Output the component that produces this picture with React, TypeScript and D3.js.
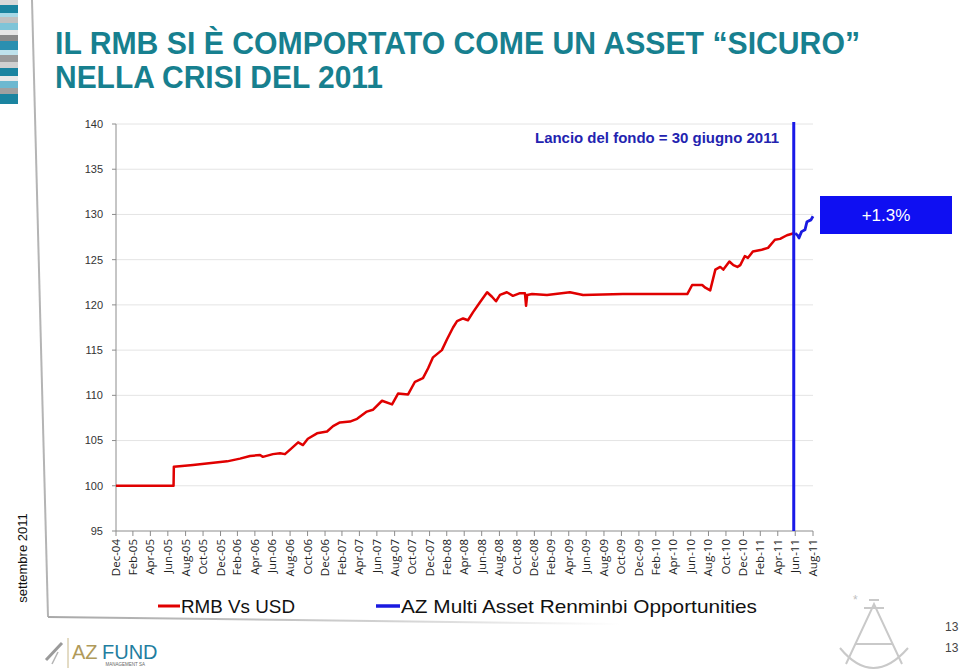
import React from 'react';
import * as d3 from 'd3';

// RMB vs USD (rebased 100)
const rmbDates = [
  '2004-12-31', '2005-04-29', '2005-07-20', '2005-07-21', '2005-09-26', '2006-01-23',
  '2006-03-09', '2006-04-13', '2006-05-18', '2006-05-28', '2006-07-02', '2006-07-27',
  '2006-08-13', '2006-08-31', '2006-09-28', '2006-10-15', '2006-11-01', '2006-12-03',
  '2007-01-07', '2007-01-28', '2007-02-21', '2007-03-28', '2007-04-22', '2007-05-26',
  '2007-06-16', '2007-07-18', '2007-08-22', '2007-09-12', '2007-10-17', '2007-11-10',
  '2007-12-08', '2007-12-26', '2008-01-12', '2008-02-12', '2008-03-01', '2008-03-22',
  '2008-04-05', '2008-04-26', '2008-05-13', '2008-05-31', '2008-06-24', '2008-07-19',
  '2008-08-05', '2008-08-19', '2008-09-02', '2008-09-26', '2008-10-17', '2008-11-11',
  '2008-11-28', '2008-12-02', '2008-12-06', '2008-12-23', '2009-02-13', '2009-05-04',
  '2009-06-19', '2009-11-05', '2010-06-18', '2010-07-05', '2010-08-09', '2010-08-20',
  '2010-09-06', '2010-09-24', '2010-10-11', '2010-10-22', '2010-11-12', '2010-11-26',
  '2010-12-10', '2010-12-20', '2011-01-05', '2011-01-16', '2011-02-02', '2011-03-05',
  '2011-03-27', '2011-04-20', '2011-05-08', '2011-06-01', '2011-06-22', '2011-06-30',
];
const rmbValues = [
  100.0, 100.0, 100.0, 102.1, 102.3, 102.7,
  103.0, 103.3, 103.4, 103.2, 103.5, 103.6,
  103.5, 104.0, 104.8, 104.5, 105.2, 105.8,
  106.0, 106.6, 107.0, 107.1, 107.4, 108.2,
  108.4, 109.4, 109.0, 110.2, 110.1, 111.5,
  111.9, 113.0, 114.2, 115.0, 116.2, 117.5,
  118.2, 118.5, 118.3, 119.2, 120.3, 121.4,
  120.9, 120.4, 121.1, 121.4, 121.0, 121.3,
  121.3, 119.9, 121.1, 121.2, 121.1, 121.4,
  121.1, 121.2, 121.2, 122.2, 122.2, 121.9,
  121.6, 123.9, 124.2, 123.9, 124.8, 124.4,
  124.2, 124.4, 125.4, 125.2, 125.9, 126.1,
  126.3, 127.2, 127.3, 127.7, 127.9, 127.9,
];

// AZ Multi Asset Renminbi Opportunities, from launch
const azDates = ['2011-06-30', '2011-07-08', '2011-07-13', '2011-07-22', '2011-08-03', '2011-08-10', '2011-08-24', '2011-08-31'];
const azValues = [127.9, 127.7, 127.4, 128.1, 128.3, 129.2, 129.4, 129.8];

const yTicks = [95, 100, 105, 110, 115, 120, 125, 130, 135, 140];
const xTickLabels = [
  'Dec-04', 'Feb-05', 'Apr-05', 'Jun-05', 'Aug-05', 'Oct-05', 'Dec-05', 'Feb-06', 'Apr-06',
  'Jun-06', 'Aug-06', 'Oct-06', 'Dec-06', 'Feb-07', 'Apr-07', 'Jun-07', 'Aug-07', 'Oct-07',
  'Dec-07', 'Feb-08', 'Apr-08', 'Jun-08', 'Aug-08', 'Oct-08', 'Dec-08', 'Feb-09', 'Apr-09',
  'Jun-09', 'Aug-09', 'Oct-09', 'Dec-09', 'Feb-10', 'Apr-10', 'Jun-10', 'Aug-10', 'Oct-10',
  'Dec-10', 'Feb-11', 'Apr-11', 'Jun-11', 'Aug-11',
];
const launchDate = '2011-06-30';
const perfLabel = '+1.3%';

const stripeColors = ['#d9d9d9', '#1b84a0', '#a8d8e6', '#c0c0c0', '#7fc4d8', '#e6e6e6', '#8a8a8a', '#2a8fb0',
  '#bfe2ec', '#9a9a9a', '#d0d0d0', '#1b84a0', '#e8e8e8', '#6db8d0', '#a0a0a0', '#1b84a0'];
const stripeHeights = [5, 8, 4, 6, 7, 5, 6, 9, 5, 7, 6, 8, 5, 7, 6, 10];

const parseDay = d3.utcParse('%Y-%m-%d');
const parseMonth = d3.utcParse('%b-%y');

export default function App() {
  const x = d3.scaleUtc()
    .domain([parseDay('2004-12-31')!, parseDay('2011-08-31')!])
    .range([116, 813]);
  const y = d3.scaleLinear().domain([95, 140]).range([531, 124]);

  const line = d3.line<[Date, number]>()
    .x(d => x(d[0]))
    .y(d => y(d[1]));

  const rmb: [Date, number][] = rmbDates.map((d, i) => [parseDay(d)!, rmbValues[i]]);
  const az: [Date, number][] = azDates.map((d, i) => [parseDay(d)!, azValues[i]]);

  // month labels sit on the last day of the month
  const xTicks = xTickLabels.map(l => ({
    label: l,
    date: d3.utcDay.offset(d3.utcMonth.offset(parseMonth(l)!, 1), -1),
  }));

  const lx = x(parseDay(launchDate)!);
  const arial = '"Liberation Sans", Arial, sans-serif';

  let sy = 0;
  const stripes = stripeColors.map((c, i) => {
    const r = { y: sy, h: stripeHeights[i], c };
    sy += stripeHeights[i];
    return r;
  });

  return (
    <svg width={960} height={672} style={{ position: 'absolute', left: 0, top: 0, background: '#fff' }}>
      <defs>
        <linearGradient id="fadeLine" x1="0" x2="1" y1="0" y2="0">
          <stop offset="0" stopColor="#a8a8a8" />
          <stop offset="0.6" stopColor="#d2d2d2" />
          <stop offset="1" stopColor="#ffffff" />
        </linearGradient>
      </defs>

      {/* decorative frame */}
      {stripes.map((s, i) => (
        <rect key={i} x={0} y={s.y} width={18} height={s.h} fill={s.c} />
      ))}
      <line x1={32} y1={0} x2={48} y2={617} stroke="#b4b4b4" strokeWidth={2} />
      <line x1={48} y1={617} x2={620} y2={624} stroke="url(#fadeLine)" strokeWidth={2} />

      {/* title */}
      <text x={55} y={54} fontFamily={arial} fontWeight="bold" fontSize={31} fill="#17808f"
        textLength={805} lengthAdjust="spacingAndGlyphs">
        IL RMB SI È COMPORTATO COME UN ASSET “SICURO”
      </text>
      <text x={55} y={88} fontFamily={arial} fontWeight="bold" fontSize={31} fill="#17808f"
        textLength={328} lengthAdjust="spacingAndGlyphs">
        NELLA CRISI DEL 2011
      </text>

      {/* grid */}
      {yTicks.filter(t => t > 95).map(t => (
        <line key={t} x1={116} x2={813} y1={y(t)} y2={y(t)} stroke="#e4e4e4" strokeWidth={1} />
      ))}

      {/* y axis */}
      <line x1={116} x2={116} y1={124} y2={531} stroke="#8c8c8c" strokeWidth={1} />
      {yTicks.map(t => (
        <g key={t}>
          <line x1={112} x2={116} y1={y(t)} y2={y(t)} stroke="#8c8c8c" />
          <text x={103} y={y(t)} dy="0.35em" textAnchor="end" fontFamily={arial} fontSize={11} fill="#333">
            {t}
          </text>
        </g>
      ))}

      {/* x axis */}
      <line x1={116} x2={813} y1={531} y2={531} stroke="#8c8c8c" strokeWidth={1} />
      {xTicks.map(t => {
        const tx = x(t.date);
        return (
          <g key={t.label}>
            <line x1={tx} x2={tx} y1={531} y2={536} stroke="#8c8c8c" />
            <text transform={`translate(${tx + 4},${539}) rotate(-90)`} textAnchor="end"
              fontFamily='"Open Sans", sans-serif' fontSize={11.5} fill="#222">
              {t.label}
            </text>
          </g>
        );
      })}

      {/* series */}
      <path d={line(rmb) ?? ''} fill="none" stroke="#e00000" strokeWidth={2.5} strokeLinejoin="round" />
      <line x1={lx - 1.5} x2={lx - 1.5} y1={122} y2={531} stroke="#1a1ae8" strokeWidth={3} />
      <path d={line(az) ?? ''} fill="none" stroke="#1a1ae0" strokeWidth={2.8} strokeLinejoin="round" />

      {/* annotations */}
      <text x={779} y={143} textAnchor="end" fontFamily={arial} fontSize={14} fontWeight="bold" fill="#2323b0"
        textLength={244} lengthAdjust="spacingAndGlyphs">
        Lancio del fondo = 30 giugno 2011
      </text>
      <rect x={820} y={196} width={132} height={38} fill="#0f0ff2" />
      <text x={886} y={215} dy="0.35em" textAnchor="middle" fontFamily={arial} fontSize={17} fill="#fff">
        {perfLabel}
      </text>

      {/* legend */}
      <line x1={158} x2={180} y1={606} y2={606} stroke="#e00000" strokeWidth={3} />
      <text x={181} y={613} fontFamily={arial} fontSize={19} fill="#111" textLength={114} lengthAdjust="spacingAndGlyphs">
        RMB Vs USD
      </text>
      <line x1={376} x2={400} y1={606} y2={606} stroke="#1a1ae0" strokeWidth={3.5} />
      <text x={401} y={613} fontFamily={arial} fontSize={19} fill="#111" textLength={356} lengthAdjust="spacingAndGlyphs">
        AZ Multi Asset Renminbi Opportunities
      </text>

      {/* side label */}
      <text transform="translate(27,558) rotate(-90)" textAnchor="middle" fontFamily={arial} fontSize={13} fill="#111">
        settembre 2011
      </text>

      {/* AZ Fund logo */}
      <g>
        <line x1={46} y1={660} x2={62} y2={643} stroke="#9a9a9a" strokeWidth={3} />
        <line x1={52} y1={664} x2={58} y2={652} stroke="#b5b5b5" strokeWidth={1.5} />
        <line x1={68} y1={638} x2={68} y2={668} stroke="#c8b88a" strokeWidth={1} />
        <text x={72} y={659} fontFamily={arial} fontSize={20} fill="#b09a5a">AZ</text>
        <text x={102} y={659} fontFamily={arial} fontSize={20} fill="#1f7ea0">FUND</text>
        <text x={145} y={666} textAnchor="end" fontFamily={arial} fontSize={4.5} fill="#666">MANAGEMENT SA</text>
      </g>

      {/* sextant logo */}
      <g fill="none" stroke="#c9c9c9" strokeWidth={2}>
        <path d="M846,664 L874,604 L902,664" />
        <path d="M855,644 L893,644" />
        <path d="M840,648 Q873,688 908,648" />
        <path d="M864,608 L884,608 M869,600 L879,600" />
      </g>
      <text x={853} y={604} fontFamily={arial} fontSize={12} fill="#c0c0c0">*</text>
      <text x={945} y={631} fontFamily={arial} fontSize={12} fill="#444">13</text>
      <text x={945} y={652} fontFamily={arial} fontSize={12} fill="#444">13</text>
    </svg>
  );
}
